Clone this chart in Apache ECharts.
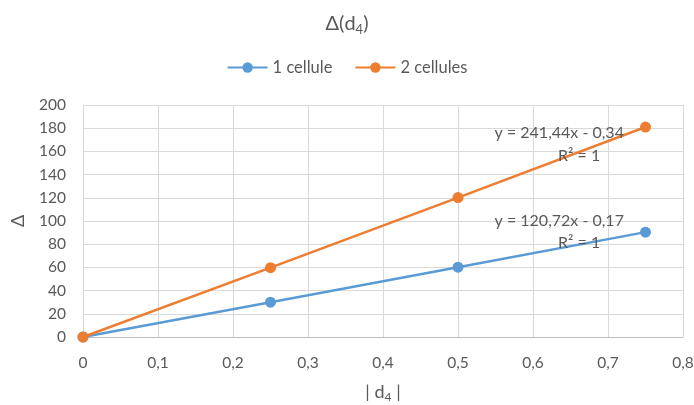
<!DOCTYPE html>
<html>
<head>
<meta charset="utf-8">
<script src="https://cdn.jsdelivr.net/npm/echarts@6/dist/echarts.min.js"></script>
<style>html,body{margin:0;padding:0;background:#fff}#c{width:694px;height:405px}</style>
</head>
<body>
<div id="c"></div>
<script>
const xValues = [0, 0.25, 0.5, 0.75];
const series1Name = '1 cellule';
const series1Values = [0, 30, 60.2, 90.4];
const series2Name = '2 cellules';
const series2Values = [0, 59.8, 120.2, 181];
const eq1 = ['y = 120,72x - 0,17', 'R² = 1'];
const eq2 = ['y = 241,44x - 0,34', 'R² = 1'];

const FONT = 'Lato, "Noto Sans", sans-serif';
const GRAY = '#595959';
const chart = echarts.init(document.getElementById('c'));
const pair = (vals) => xValues.map((x, i) => [x, vals[i]]);
const eqLabel = (text) => ({ show: true, color: GRAY, fontSize: 16, fontFamily: FONT, fontWeight: 'normal', formatter: text, position: 'inside' });
const eqMarks = (lines, eqCoord, r2Coord) => ({
  symbol: 'rect', symbolSize: 1, itemStyle: { color: 'rgba(0,0,0,0)' },
  data: [
    { coord: eqCoord, label: eqLabel(lines[0]) },
    { coord: r2Coord, label: eqLabel(lines[1]) }
  ]
});
chart.setOption({
  animation: false,
  textStyle: { fontFamily: FONT },
  title: {
    text: '{m|Δ(d}{s|4}{m|)}',
    left: 'center', top: 6,
    textStyle: {
      fontWeight: 'normal',
      rich: {
        m: { fontSize: 20, color: GRAY, fontFamily: FONT, fontWeight: 'normal' },
        s: { fontSize: 13, color: GRAY, fontFamily: FONT, fontWeight: 'normal', padding: [12, 0, 0, 0] }
      }
    }
  },
  legend: {
    top: 54, left: 'center',
    itemWidth: 40, itemHeight: 13, itemGap: 22,
    textStyle: { fontSize: 16.5, color: GRAY, fontFamily: FONT },
    data: [series1Name, series2Name]
  },
  grid: { left: 83, right: 11, top: 105, bottom: 68, containLabel: false, outerBoundsMode: 'none' },
  xAxis: {
    type: 'value', min: 0, max: 0.8, interval: 0.1,
    name: '{m|| d}{s|4}{m| |}', nameLocation: 'middle', nameGap: 44,
    nameTextStyle: {
      rich: {
        m: { fontSize: 18, color: GRAY, fontFamily: FONT },
        s: { fontSize: 12, color: GRAY, fontFamily: FONT, padding: [10, 0, 0, 0] }
      }
    },
    axisLine: { show: true, lineStyle: { color: '#bfbfbf', width: 1 } },
    axisTick: { show: false },
    axisLabel: { color: GRAY, fontSize: 15.5, margin: 18, fontFamily: FONT,
      formatter: v => String(Math.round(v * 10) / 10).replace('.', ',') },
    splitLine: { show: true, lineStyle: { color: '#d9d9d9' } }
  },
  yAxis: {
    type: 'value', min: 0, max: 200, interval: 20,
    name: 'Δ', nameLocation: 'middle', nameGap: 56, nameRotate: 90,
    nameTextStyle: { fontSize: 18, color: GRAY, fontFamily: FONT },
    axisLine: { show: true, lineStyle: { color: '#d9d9d9' } },
    axisTick: { show: false },
    axisLabel: { color: GRAY, fontSize: 15.5, margin: 17, fontFamily: FONT },
    splitLine: { show: true, lineStyle: { color: '#d9d9d9' } }
  },
  series: [
    {
      name: series1Name, type: 'line', data: pair(series1Values),
      symbol: 'circle', symbolSize: 11,
      lineStyle: { color: '#5b9bd5', width: 2.5 },
      itemStyle: { color: '#5b9bd5' },
      markPoint: eqMarks(eq1, [0.635, 100], [0.6615, 81])
    },
    {
      name: series2Name, type: 'line', data: pair(series2Values),
      symbol: 'circle', symbolSize: 11,
      lineStyle: { color: '#ed7d31', width: 2.5 },
      itemStyle: { color: '#ed7d31' },
      markPoint: eqMarks(eq2, [0.635, 176], [0.6615, 156.5])
    }
  ]
});
</script>
</body>
</html>
